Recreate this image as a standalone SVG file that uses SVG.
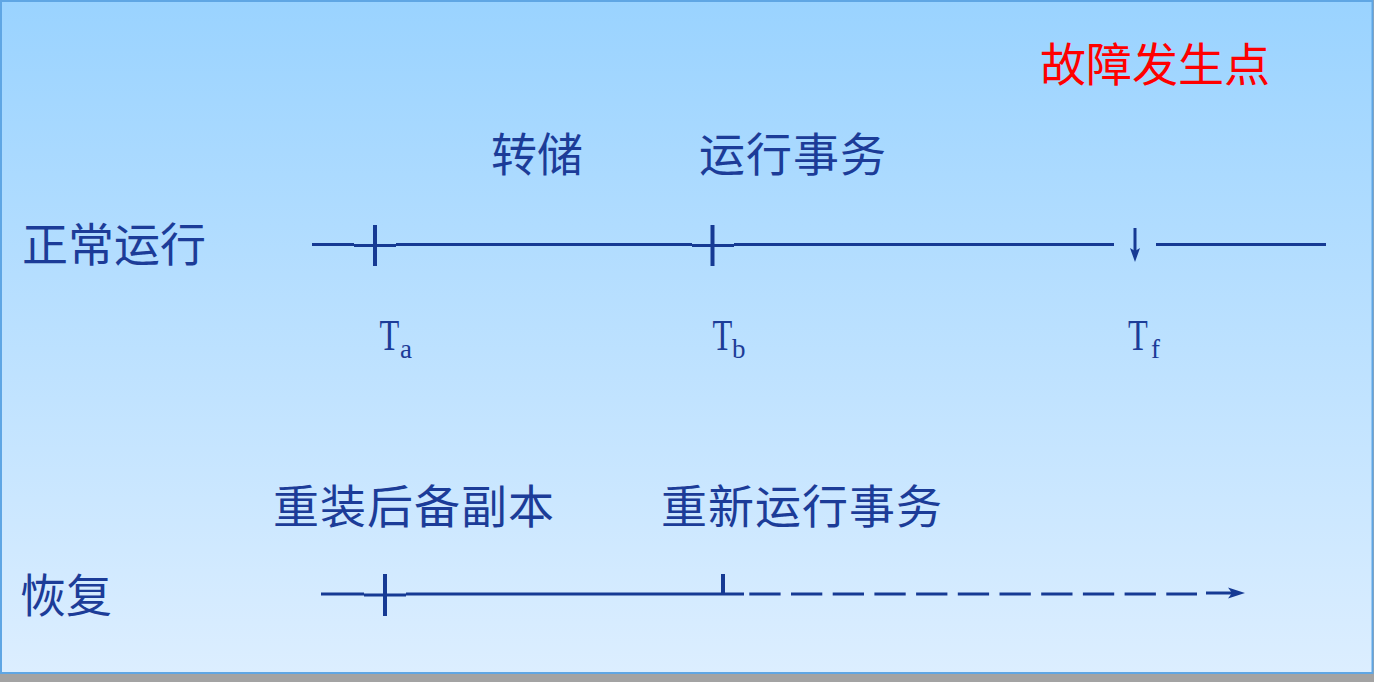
<svg xmlns="http://www.w3.org/2000/svg" width="1374" height="682" viewBox="0 0 1374 682">
  <defs>
    <linearGradient id="bg" x1="0" y1="0" x2="0" y2="1">
      <stop offset="0" stop-color="#9ad3ff"/>
      <stop offset="1" stop-color="#dceeff"/>
    </linearGradient>
  </defs>
  <style>
    .cjk { font-family: "Noto Sans CJK SC", sans-serif; font-size: 46px; fill: #1c3c98; }
    .wide { letter-spacing: 1px; }
    .red { fill: #ff0000; }
    .ser { font-family: "Liberation Serif", serif; fill: #1c3c98; }
    .ln { stroke: #163a94; stroke-width: 3; fill: none; }
    .tk { stroke: #163a94; stroke-width: 4; fill: none; }
    .hd { fill: #163a94; }
  </style>
  <rect x="0" y="0" width="1374" height="682" fill="#a3a3a3"/>
  <rect x="1" y="1" width="1371.5" height="672" fill="url(#bg)" stroke="#5fa6e4" stroke-width="2"/>

  <g id="label-fault"><text class="cjk red" x="1040" y="81">故障发生点</text></g>
  <g id="label-dump"><text class="cjk" x="491" y="171">转储</text></g>
  <g id="label-run"><text class="cjk wide" x="699" y="171">运行事务</text></g>
  <g id="label-normal"><text class="cjk" x="22" y="261">正常运行</text></g>
  <g id="label-reload"><text class="cjk wide" x="273" y="523">重装后备副本</text></g>
  <g id="label-rerun"><text class="cjk wide" x="661" y="523">重新运行事务</text></g>
  <g id="label-recover"><text class="cjk" x="20" y="612">恢复</text></g>

  <g id="label-Ta">
    <text class="ser" font-size="45" transform="translate(379.5,350) scale(0.72,1)">T</text>
    <text class="ser" font-size="27" x="400" y="358">a</text>
  </g>
  <g id="label-Tb">
    <text class="ser" font-size="45" transform="translate(712.5,350) scale(0.72,1)">T</text>
    <text class="ser" font-size="27" x="732" y="358">b</text>
  </g>
  <g id="label-Tf">
    <text class="ser" font-size="45" transform="translate(1128,350) scale(0.72,1)">T</text>
    <text class="ser" font-size="27" x="1151" y="358">f</text>
  </g>

  <g id="connectors">
    <line class="ln" x1="312" y1="244.5" x2="354" y2="244.5"/>
    <line class="ln" x1="354" y1="245.5" x2="396" y2="245.5"/>
    <line class="ln" x1="396" y1="244.5" x2="692" y2="244.5"/>
    <line class="ln" x1="692" y1="245.5" x2="734" y2="245.5"/>
    <line class="ln" x1="734" y1="244.5" x2="1114" y2="244.5"/>
    <line class="ln" x1="1156" y1="244.5" x2="1326" y2="244.5"/>
    <line class="tk" x1="375" y1="225" x2="375" y2="266"/>
    <line class="tk" x1="712.5" y1="225" x2="712.5" y2="266"/>
    <line class="ln" x1="1135" y1="228" x2="1135" y2="252"/>
    <polygon class="hd" points="1130,248 1135,262 1140,248 1135,251"/>

    <line class="ln" x1="321" y1="594" x2="364" y2="594"/>
    <line class="ln" x1="364" y1="595" x2="406" y2="595"/>
    <line class="ln" x1="406" y1="594" x2="744" y2="594"/>
    <line class="tk" x1="385" y1="574" x2="385" y2="616"/>
    <line class="tk" x1="723" y1="574" x2="723" y2="594"/>
    <line class="ln" x1="749.3" y1="594" x2="1197" y2="594" stroke-dasharray="31.3 10.4"/>
    <line class="ln" x1="1206" y1="593" x2="1236" y2="593"/>
    <polygon class="hd" points="1228,587.5 1245,593 1228,598.5 1232,593"/>
  </g>
</svg>
